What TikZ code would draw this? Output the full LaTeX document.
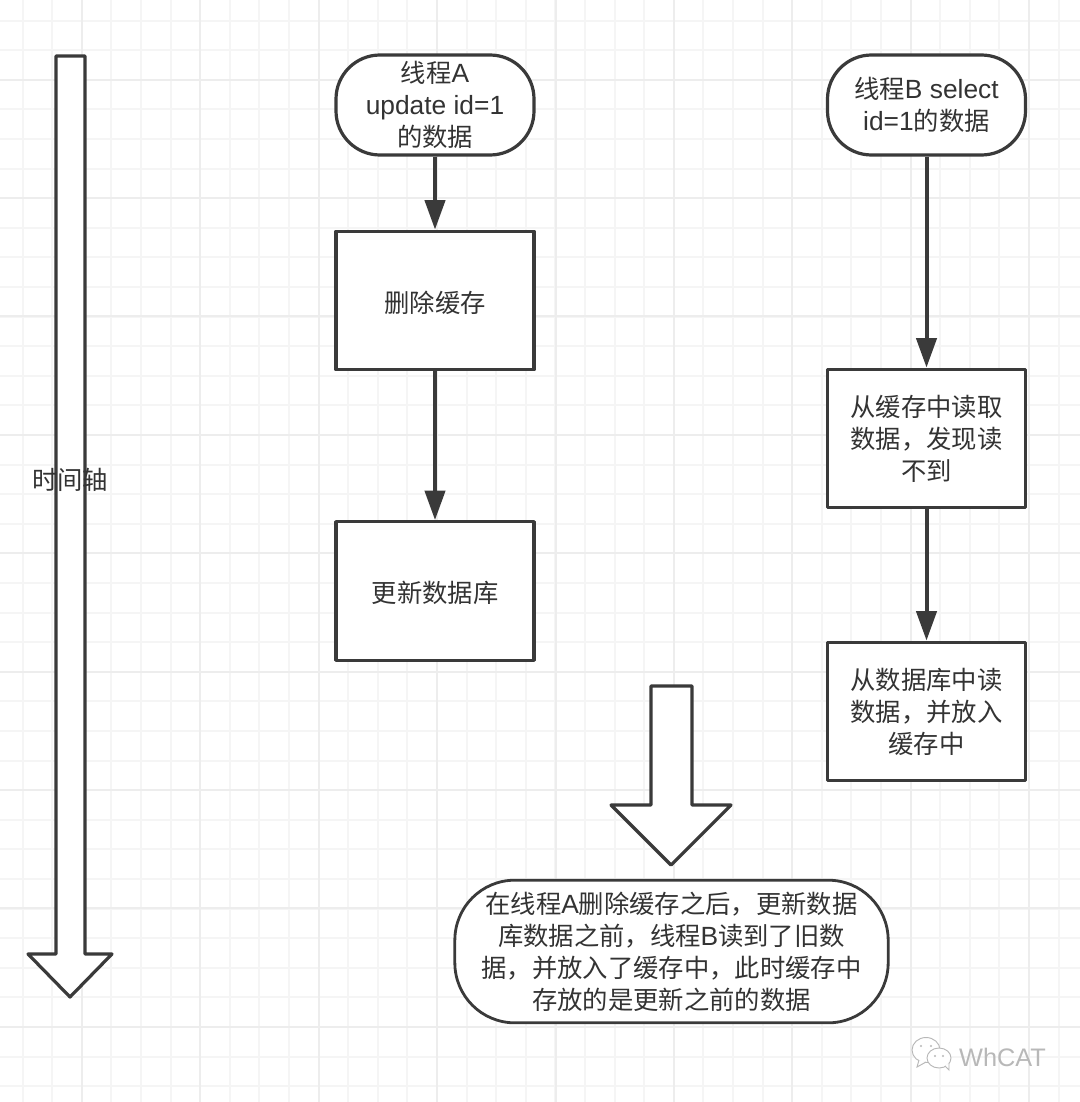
\documentclass[tikz,border=0pt]{standalone}
\usepackage{fontspec}
\setmainfont{Noto Sans CJK SC}
\newfontfamily\lat[Scale=1.04]{Liberation Sans}
\newfontfamily\wmfont{Liberation Sans}
\usetikzlibrary{arrows.meta}
\definecolor{ink}{HTML}{3A3A3A}
\definecolor{txt}{HTML}{333333}
\definecolor{gridminor}{HTML}{F5F5F5}
\definecolor{gridmajor}{HTML}{EDEDED}
\definecolor{wmgray}{HTML}{B8B8B8}
\tikzset{
  x=0.75pt,y=-0.75pt,
  drop/.code={\def\dropheight{#1}},
  shapebase/.style={draw=ink,line width=2.4pt,fill=white,text=txt,align=center,inner sep=0pt,line join=round,
    font=\fontsize{19pt}{24pt}\selectfont,drop=22pt,execute at begin node={\rule{0pt}{\dropheight}}},
  procbox/.style={shapebase,minimum width=148.5pt,minimum height=104pt},
  termbox/.style={shapebase,rounded corners=33pt,minimum width=148.5pt,minimum height=75pt},
  notebox/.style={shapebase,line width=2.1pt,rounded corners=45pt,minimum width=325pt,minimum height=107pt},
  flow/.style={draw=ink,line width=3pt,-{Triangle[length=22pt,width=15pt]}},
  blockarrow/.style={draw=ink,line width=2.4pt,fill=white,line join=round},
  label/.style={text=txt,inner sep=0pt,font=\fontsize{19pt}{24pt}\selectfont},
  bubble/.style={draw=wmgray,line width=0.7pt,fill=white}
}
\begin{document}
\begin{tikzpicture}
\useasboundingbox (0,0) rectangle (1080,1102);
\fill[white] (0,0) rectangle (1080,1102);
% grid
\foreach \i in {0,...,36}{
  \pgfmathsetmacro{\gx}{22.6+29.6*\i}
  \draw[gridminor,line width=1.4pt] (\gx,0) -- (\gx,1102);
  \pgfmathsetmacro{\gy}{20.6+29.6*\i}
  \draw[gridminor,line width=1.4pt] (0,\gy) -- (1080,\gy);
}
\foreach \i in {0,...,9}{
  \pgfmathsetmacro{\gx}{82+118.4*\i}
  \draw[gridmajor,line width=1.4pt] (\gx,0) -- (\gx,1102);
  \pgfmathsetmacro{\gy}{79.6+118.4*\i}
  \draw[gridmajor,line width=1.4pt] (0,\gy) -- (1080,\gy);
}
% time axis
\draw[blockarrow] (56,56) -- (85,56) -- (85,954) -- (112,954) -- (70,997) -- (28,954) -- (56,954) -- cycle;
\node[label] (timeaxis) at (70,480) {时间轴};
% thread A
\node[termbox] (astart) at (435,105) {线程{\lat A}\\{\lat update id=1}\\的数据};
\node[procbox,drop=19pt] (adel) at (435,300.5) {删除缓存};
\node[procbox,drop=19pt] (aupd) at (435,591) {更新数据库};
% thread B
\node[termbox] (bstart) at (926.5,105) {线程{\lat B select}\\{\lat id=1}的数据};
\node[procbox] (bread) at (926.5,438.5) {从缓存中读取\\数据，发现读\\不到};
\node[procbox] (bload) at (926.5,711.5) {从数据库中读\\数据，并放入\\缓存中};
% connectors
\draw[flow] (astart) -- (adel);
\draw[flow] (adel) -- (aupd);
\draw[flow] (bstart) -- (bread);
\draw[flow] (bread) -- (bload);
% result arrow
\draw[blockarrow] (651,686) -- (692,686) -- (692,805) -- (731,805) -- (671,865) -- (611,805) -- (651,805) -- cycle;
\node[notebox] (note) at (671.5,951.5) {在线程{\lat A}删除缓存之后，更新数据\\库数据之前，线程{\lat B}读到了旧数\\据，并放入了缓存中，此时缓存中\\存放的是更新之前的数据};
% watermark
\draw[bubble] (926,1050) ellipse (14 and 12.5);
\draw[bubble] (919,1060) -- (917,1067) -- (926,1062);
\draw[bubble] (939,1058) ellipse (12 and 10);
\draw[bubble] (945,1066) -- (949,1070) -- (949,1063);
\fill[wmgray] (921,1046) circle (1.2) (931,1046) circle (1.2) (935,1056) circle (1.2) (943,1056) circle (1.2);
\node[inner sep=0pt,text=wmgray,font=\wmfont\fontsize{19pt}{22pt}\selectfont] (brand) at (1002.5,1057) {WhCAT};
\end{tikzpicture}
\end{document}
